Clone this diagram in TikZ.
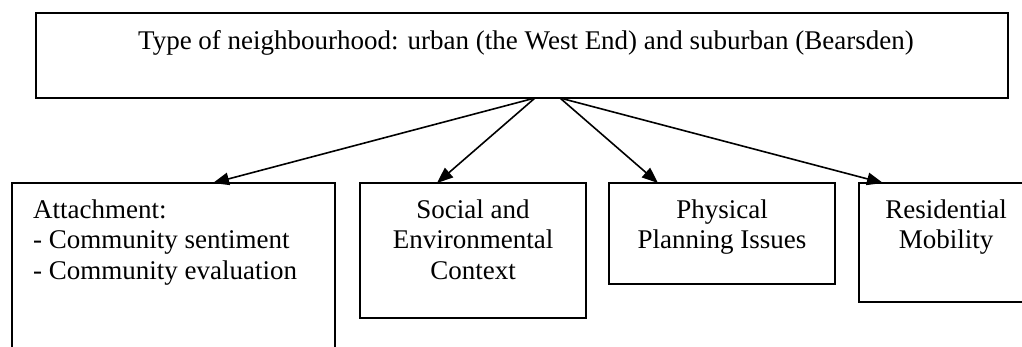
\documentclass[tikz,border=0pt]{standalone}
\usepackage{fontspec}
\setmainfont{Liberation Serif}
\usetikzlibrary{arrows.meta,calc}
\begin{document}
\begin{tikzpicture}[x=1pt,y=-1pt,
  box/.style={draw,line width=1.6pt,rectangle,inner sep=0pt,outer sep=0pt,anchor=north west},
  lbl/.style={inner sep=0pt,font=\fontsize{27}{30.5}\selectfont,align=center},
  arr/.style={line width=1.6pt,-{Triangle[length=16pt,width=12.5pt]}}]
\useasboundingbox (0,0) rectangle (1022,347);
\clip (0,0) rectangle (1022,347);
% boxes
\node[box,minimum width=972pt,minimum height=85pt] (top) at (36,13) {};
\node[box,minimum width=323pt,minimum height=217pt] (att) at (12,183) {};
\node[box,minimum width=226pt,minimum height=135pt] (soc) at (360,183) {};
\node[box,minimum width=226pt,minimum height=101pt] (phy) at (609,183) {};
\node[box,minimum width=175pt,minimum height=119pt] (res) at (859,183) {};
% texts
\node[lbl,anchor=base] (ttop) at (526,50) {Type of neighbourhood: urban (the West End) and suburban (Bearsden)};
\node[lbl,align=left,anchor=north west] (tatt) at (33,199.5) {Attachment:\\- Community sentiment\\- Community evaluation};
\node[lbl,anchor=north] (tsoc) at (473,199.5) {Social and\\Environmental\\Context};
\node[lbl,anchor=north] (tphy) at (722,199.5) {Physical\\Planning Issues};
\node[lbl,anchor=north] (tres) at (946,199.5) {Residential\\Mobility};
% connector points
\coordinate (o1) at ([xshift=499pt]top.south west);
\coordinate (o2) at ([xshift=524pt]top.south west);
\coordinate (e1) at ([xshift=201pt]att.north west);
\coordinate (e2) at ([xshift=77pt]soc.north west);
\coordinate (e3) at ([xshift=49pt]phy.north west);
\coordinate (e4) at ([xshift=24pt]res.north west);
\draw[arr] (o1) -- (e1);
\draw[arr] (o1) -- (e2);
\draw[arr] (o2) -- (e3);
\draw[arr] (o2) -- (e4);
\end{tikzpicture}
\end{document}
